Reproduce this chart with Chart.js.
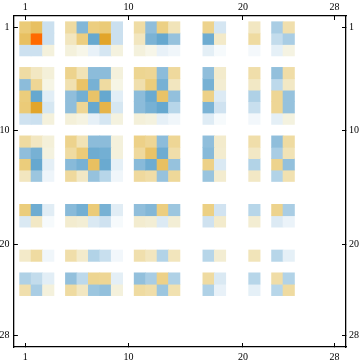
<!DOCTYPE html>
<html>
<head>
<meta charset="utf-8">
<script src="https://cdn.jsdelivr.net/npm/chart.js@4"></script>
<style>
  html, body { margin: 0; padding: 0; background: #fff; }
  #wrap { width: 360px; height: 363px; }
</style>
</head>
<body>
<div id="wrap"><canvas id="c"></canvas></div>
<script>
// matrix positions that hold a cell, the other rows/columns stay empty
var cols = [1, 2, 3, 5, 6, 7, 8, 9, 11, 12, 13, 14, 17, 18, 21, 23, 24];
var rows = [1, 2, 3, 5, 6, 7, 8, 9, 11, 12, 13, 14, 17, 18, 21, 23, 24];
var tickValues = [1, 10, 20, 28];

// one list per row
var row1  = [4, 4.3, -3, 3, -5.3, 3.8, 4, -3, 2.9, -5, 3.7, 2.2, 3.5, -2.5, 1.9, -4.2, 2.6];
var row2  = [4.3, 10, -3, 2, 3.8, -6, 5, -3, 2, -5.5, -6, -4.8, -5.8, 1.7, 3, -3.3, -4.2];
var row3  = [-2.9, -2.9, 1.1, 1.1, 0.7, -1.3, -2.5, 1, 1.1, 0.7, -1.3, -0.8, -1.6, -0.5, -0.6, -1.5, 0.9];
var row5  = [2.9, 1.9, 1.2, 3.5, 2.3, -5.1, -5.1, 1.1, 3.4, 3.3, -5.1, 3.1, -5, 1.6, 2.7, -4.9, 2.8];
var row6  = [-5.1, 3.3, 0.8, 2.5, 4.2, -5.6, 3, 0.8, 2.6, 3.9, -5.6, 2, -5.6, 1.4, 1.8, -3.5, 1.8];
var row7  = [3.9, -6, -1.7, -5, -5.7, 4.2, -6, -1.7, -5.1, -5.9, 4.2, -4.9, 3.6, -2.1, -4, 3.3, -4.8];
var row8  = [4, 5, -2.4, -5, 3.3, -6, 4.6, -2.4, -5.1, -5.6, -6, -3.7, -5.5, -2.8, -3.1, 3.3, -4.8];
var row9  = [-2.8, -3, 1.1, 1.2, 0.9, -1.4, -2.5, 1, 1.2, 1, -1.4, -0.8, -1.9, -0.5, -0.7, -1.6, 1];
var row11 = [3, 1.9, 1.2, 3.5, 2.3, -5.1, -5.1, 1.1, 3.6, 3.3, -5.1, 3.3, -5, 1.6, 2.7, -5, 3];
var row12 = [-5, -5.6, 1, 3, 4, -5.8, -5.7, 1.1, 3.1, 4.2, -5.8, 2.7, -5.2, 1.5, 1.8, -4.2, 2.3];
var row13 = [3.9, -6, -1.6, -5.2, -5.6, 4.3, -5.9, -1.5, -5.2, -5.8, 4.3, -4.8, 3.6, -2.2, -3.9, 3.5, -4.9];
var row14 = [2, -4.6, -0.9, 3.1, 1.8, -4.8, -3.7, -0.8, 3.1, 2.8, -4.8, 3.2, -4.7, 1.5, 1.8, -3.9, 2.5];
var row17 = [3.9, -5.8, -1.8, -5.2, -5.7, 4, -5.6, -1.8, -5, -5.3, 3.8, -4.6, 3.7, -2.7, -3.7, 3.5, -4.2];
var row18 = [-2.2, 1.8, -0.5, 1.5, 1.3, -2.2, -2.8, -0.5, 1.5, 1.3, -2.1, 1.3, -2.8, 1.6, 1.4, -2.1, -1.1];
var row21 = [1.7, 3, -0.8, 2.7, 1.6, -3.9, -3.1, -0.7, 2.6, 2, -3.9, 2.1, -3.7, 1.4, 2.2, -3.7, -1.5];
var row23 = [-4, -3.3, -1.7, -4.9, -3.5, 3.4, 3.3, -1.6, -4.9, -4.2, 3.6, -4, 3, -2.2, -3.7, 2.8, -3.9];
var row24 = [2.6, -4.2, 1.1, 3, 1.9, -4.6, -4.9, 1.1, 3, 2.7, -4.6, 2.5, -4, -1.3, -1.5, -3.7, 3];
var values = [row1, row2, row3, row5, row6, row7, row8, row9, row11, row12, row13, row14, row17, row18, row21, row23, row24];

// colour ramp: value -> rgb
var stops = [
  [-6, [102, 168, 207]], [-5, [144, 190, 219]], [-4, [175, 209, 230]], [-3, [203, 224, 239]],
  [-2, [222, 235, 244]], [-1, [236, 244, 249]], [0, [255, 255, 255]], [1, [244, 242, 223]],
  [2, [242, 230, 191]], [3, [239, 219, 161]], [4, [235, 203, 120]], [5, [226, 165, 42]],
  [10, [255, 106, 0]]
];

function colorOf(v) {
  for (var i = 1; i < stops.length; i++) {
    if (v <= stops[i][0]) {
      var a = stops[i - 1], b = stops[i];
      var t = (v - a[0]) / (b[0] - a[0]);
      return 'rgb(' + [0, 1, 2].map(function (k) {
        return Math.round(a[1][k] + (b[1][k] - a[1][k]) * t);
      }).join(',') + ')';
    }
  }
  return 'rgb(255,106,0)';
}

// each matrix row is a dataset of floating bars, one row high
var datasets = rows.map(function (r, i) {
  return {
    data: cols.map(function (c) { return { x: c, y: [r - 0.5, r + 0.5] }; }),
    backgroundColor: values[i].map(colorOf),
    borderWidth: 0,
    barPercentage: 1,
    categoryPercentage: 1,
    grouped: false
  };
});

function frameAxis(position, size, padding) {
  var horizontal = position === 'top' || position === 'bottom';
  return {
    type: 'linear',
    position: position,
    min: 0,
    max: 29,
    offset: false,
    reverse: !horizontal,
    afterBuildTicks: function (axis) {
      axis.ticks = tickValues.map(function (v) { return { value: v }; });
    },
    afterFit: function (axis) {
      if (horizontal) axis.height = size; else axis.width = size;
    },
    border: { display: true, color: '#000', width: 1.3 },
    grid: { offset: false, drawOnChartArea: false, drawTicks: true, tickLength: -4, color: '#000', lineWidth: 1 },
    ticks: {
      autoSkip: false,
      maxRotation: 0,
      minRotation: 0,
      padding: padding,
      color: '#000',
      font: { family: '"Liberation Serif"', size: 10 }
    }
  };
}

new Chart(document.getElementById('c'), {
  type: 'bar',
  data: { datasets: datasets },
  options: {
    responsive: true,
    maintainAspectRatio: false,
    animation: false,
    layout: { padding: 0 },
    plugins: { legend: { display: false }, tooltip: { enabled: false } },
    scales: {
      x: frameAxis('bottom', 16, 8),
      xTop: frameAxis('top', 16, 7),
      y: frameAxis('left', 13.9, 8.5),
      yRight: frameAxis('right', 14, 7)
    }
  }
});
</script>
</body>
</html>
